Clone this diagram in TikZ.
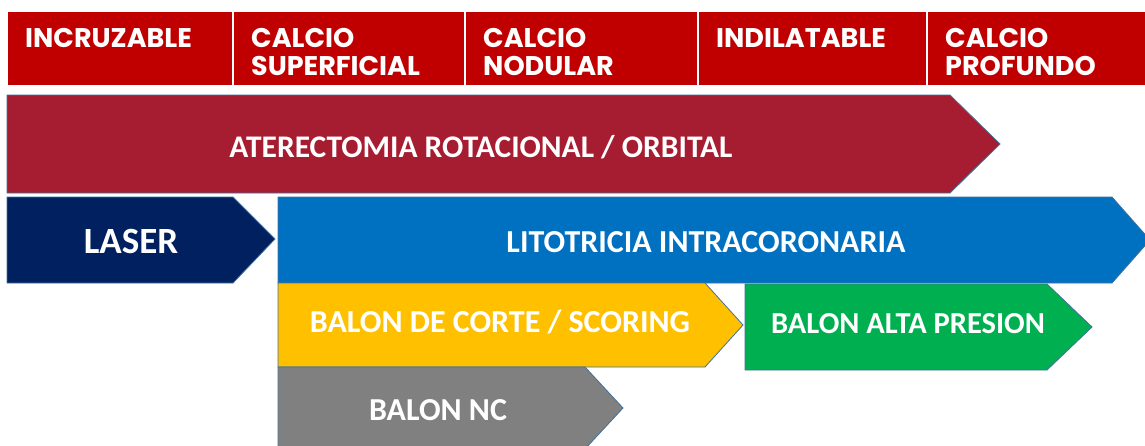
\documentclass[tikz,border=0pt]{standalone}
\usepackage{fontspec}
\setmainfont{Carlito}
\newfontfamily\hdrfont{Poppins}
\definecolor{hdrred}{HTML}{C00000}
\definecolor{aterred}{HTML}{A61C30}
\definecolor{lasernavy}{HTML}{002060}
\definecolor{litoblue}{HTML}{0070C0}
\definecolor{corteyellow}{HTML}{FFC000}
\definecolor{altagreen}{HTML}{00B050}
\definecolor{ncgray}{HTML}{808080}
\definecolor{edgeblue}{HTML}{41719C}
\begin{document}
\begin{tikzpicture}[x=1pt, y=-1pt,
  hdrtxt/.style={anchor=north west, text=white, align=left, inner sep=0pt,
    font=\hdrfont\bfseries\fontsize{27}{28}\selectfont},
  band/.style={draw=edgeblue, line width=0.8pt},
  lbl/.style={anchor=base, text=white, inner sep=0pt,
    font=\bfseries\fontsize{32}{34}\selectfont}]
\useasboundingbox (0,0) rectangle (1145,445);
% header row
\foreach \xa/\xb/\name/\txt in {8/232/inc/INCRUZABLE, 234/464/sup/{CALCIO\\SUPERFICIAL},
    466/697/nod/{CALCIO\\NODULAR}, 699/926/ind/INDILATABLE, 928/1145/pro/{CALCIO\\PROFUNDO}}{
  \fill[hdrred] (\xa,12) rectangle (\xb,85);
  \node[hdrtxt] (\name) at (\xa+17,28) {\txt};
}
% bands
\filldraw[band, fill=aterred] (7,95) -- (950,95) -- (1000,144) -- (950,193) -- (7,193) -- cycle;
\node[lbl, font=\bfseries\fontsize{31.5}{34}\selectfont] (ater) at (481,157) {ATERECTOMIA ROTACIONAL / ORBITAL};
\filldraw[band, fill=lasernavy] (7,197) -- (233,197) -- (275,239) -- (233,283) -- (7,283) -- cycle;
\node[lbl, font=\bfseries\fontsize{37}{38}\selectfont] (laser) at (131,253) {LASER};
\filldraw[band, fill=litoblue] (278,197) -- (1112,197) -- (1150,240) -- (1112,283) -- (278,283) -- cycle;
\node[lbl] (lito) at (706,252) {LITOTRICIA INTRACORONARIA};
\filldraw[band, fill=corteyellow] (278,283) -- (705,283) -- (743,325) -- (705,367) -- (278,367) -- cycle;
\node[lbl] (corte) at (500,332) {BALON DE CORTE / SCORING};
\filldraw[band, fill=altagreen] (745,284) -- (1047,284) -- (1092,327) -- (1047,370) -- (745,370) -- cycle;
\node[lbl, font=\bfseries\fontsize{30.5}{34}\selectfont] (alta) at (908,333) {BALON ALTA PRESION};
\filldraw[band, fill=ncgray] (278,367) -- (585,367) -- (623,408) -- (585,449) -- (278,449) -- cycle;
\node[lbl] (nc) at (438,420) {BALON NC};
\end{tikzpicture}
\end{document}
